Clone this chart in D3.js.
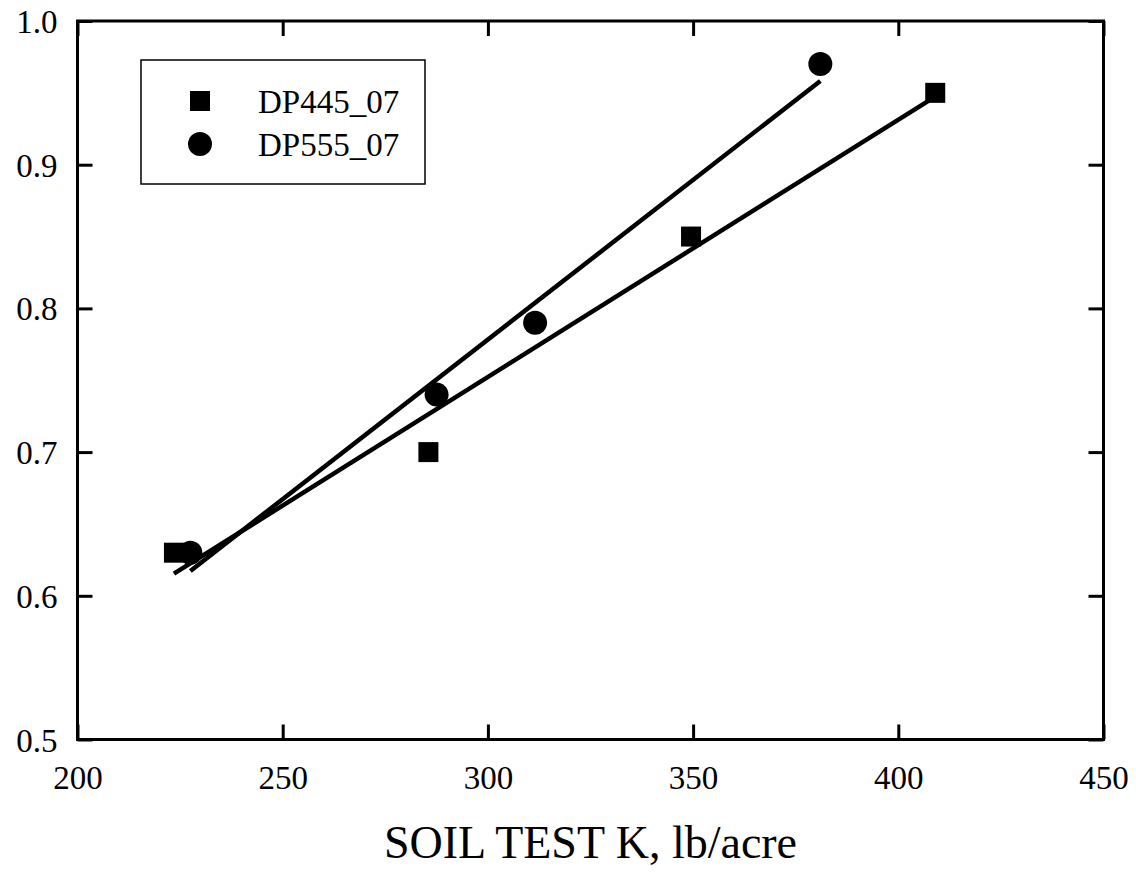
<!DOCTYPE html>
<html>
<head>
<meta charset="utf-8">
<script src="https://cdn.jsdelivr.net/npm/d3@7"></script>
<style>
  html, body { margin: 0; padding: 0; background: #fff; }
  svg { display: block; }
  svg text { font-family: "Liberation Serif", "Times New Roman", Times, serif !important; }
</style>
</head>
<body>
<svg id="chart" width="1136" height="872"></svg>
<script>
// Soil test K (lb/acre) vs relative response, two cultivars
const seriesNames = ["DP445_07", "DP555_07"];
const dp445K = [223.5, 285.5, 349.5, 409];
const dp445Y = [0.63, 0.70, 0.85, 0.95];
const dp555K = [227.5, 287.5, 311.5, 381];
const dp555Y = [0.63, 0.74, 0.79, 0.97];
const xTicks = [200, 250, 300, 350, 400, 450];
const yTicks = [0.5, 0.6, 0.7, 0.8, 0.9, 1.0];
const xTitle = "SOIL TEST K, lb/acre";

const serif = '"Liberation Serif", "Times New Roman", Times, serif';
const svg = d3.select("#chart");
const plotL = 77.5, plotR = 1103.5, plotT = 21, plotB = 739.5;

const x = d3.scaleLinear().domain([200, 450]).range([plotL, plotR]);
const y = d3.scaleLinear().domain([0.5, 1.0]).range([plotB, plotT]);

// least-squares fit for a series, drawn across its own x-range
function fit(xs, ys) {
  const mx = d3.mean(xs), my = d3.mean(ys);
  let sxy = 0, sxx = 0;
  xs.forEach((v, i) => { sxy += (v - mx) * (ys[i] - my); sxx += (v - mx) ** 2; });
  const b = sxy / sxx, a = my - b * mx;
  const x0 = d3.min(xs), x1 = d3.max(xs);
  return [[x0, a + b * x0], [x1, a + b * x1]];
}

const tickLen = 15;
const fontSize = 33;

// axes: bottom/left with labels, top/right mirrored ticks only
const gx = svg.append("g").attr("transform", `translate(0,${plotB})`)
  .call(d3.axisBottom(x).tickValues(xTicks).tickSize(-tickLen).tickPadding(26).tickFormat(d3.format("d")));
const gxt = svg.append("g").attr("transform", `translate(0,${plotT})`)
  .call(d3.axisTop(x).tickValues(xTicks).tickSize(-tickLen).tickFormat(""));
const gy = svg.append("g").attr("transform", `translate(${plotL},0)`)
  .call(d3.axisLeft(y).tickValues(yTicks).tickSize(-tickLen).tickPadding(20).tickFormat(d3.format(".1f")));
const gyr = svg.append("g").attr("transform", `translate(${plotR},0)`)
  .call(d3.axisRight(y).tickValues(yTicks).tickSize(-tickLen).tickFormat(""));

[gx, gxt, gy, gyr].forEach(g => {
  g.attr("font-family", serif).attr("font-size", fontSize);
  g.select(".domain").remove();
  g.selectAll(".tick line").attr("stroke", "#000").attr("stroke-width", 3);
  g.selectAll("text").style("font-family", serif).style("font-size", fontSize + "px").attr("fill", "#000");
});
gy.selectAll(".tick text").attr("dy", "0.35em");

// frame
svg.append("rect")
  .attr("x", plotL).attr("y", plotT)
  .attr("width", plotR - plotL).attr("height", plotB - plotT)
  .attr("fill", "none").attr("stroke", "#000").attr("stroke-width", 3);

// regression lines
const line = d3.line().x(d => x(d[0])).y(d => y(d[1]));
[[dp445K, dp445Y], [dp555K, dp555Y]].forEach(([xs, ys]) => {
  svg.append("path")
    .attr("d", line(fit(xs, ys)))
    .attr("fill", "none").attr("stroke", "#000").attr("stroke-width", 4.5);
});

// markers
const sq = 20, rad = 12;
svg.append("g").selectAll("rect").data(d3.zip(dp445K, dp445Y)).join("rect")
  .attr("x", d => x(d[0]) - sq / 2).attr("y", d => y(d[1]) - sq / 2)
  .attr("width", sq).attr("height", sq).attr("fill", "#000");
svg.append("g").selectAll("circle").data(d3.zip(dp555K, dp555Y)).join("circle")
  .attr("cx", d => x(d[0])).attr("cy", d => y(d[1])).attr("r", rad).attr("fill", "#000");

// legend
const lg = svg.append("g");
lg.append("rect").attr("x", 141).attr("y", 60).attr("width", 284).attr("height", 124)
  .attr("fill", "#fff").attr("stroke", "#000").attr("stroke-width", 1.5);
lg.append("rect").attr("x", 200 - sq / 2).attr("y", 101 - sq / 2).attr("width", sq).attr("height", sq).attr("fill", "#000");
lg.append("circle").attr("cx", 200).attr("cy", 144).attr("r", rad).attr("fill", "#000");
seriesNames.forEach((n, i) => {
  lg.append("text").attr("x", 258).attr("y", [101, 144][i]).attr("dy", "0.35em")
    .style("font-family", serif).style("font-size", fontSize + "px").attr("fill", "#000").text(n);
});

// axis title
svg.append("text").attr("x", (plotL + plotR) / 2).attr("y", 858)
  .attr("text-anchor", "middle").style("font-family", serif).style("font-size", "46px")
  .attr("fill", "#000").text(xTitle);
</script>
</body>
</html>
